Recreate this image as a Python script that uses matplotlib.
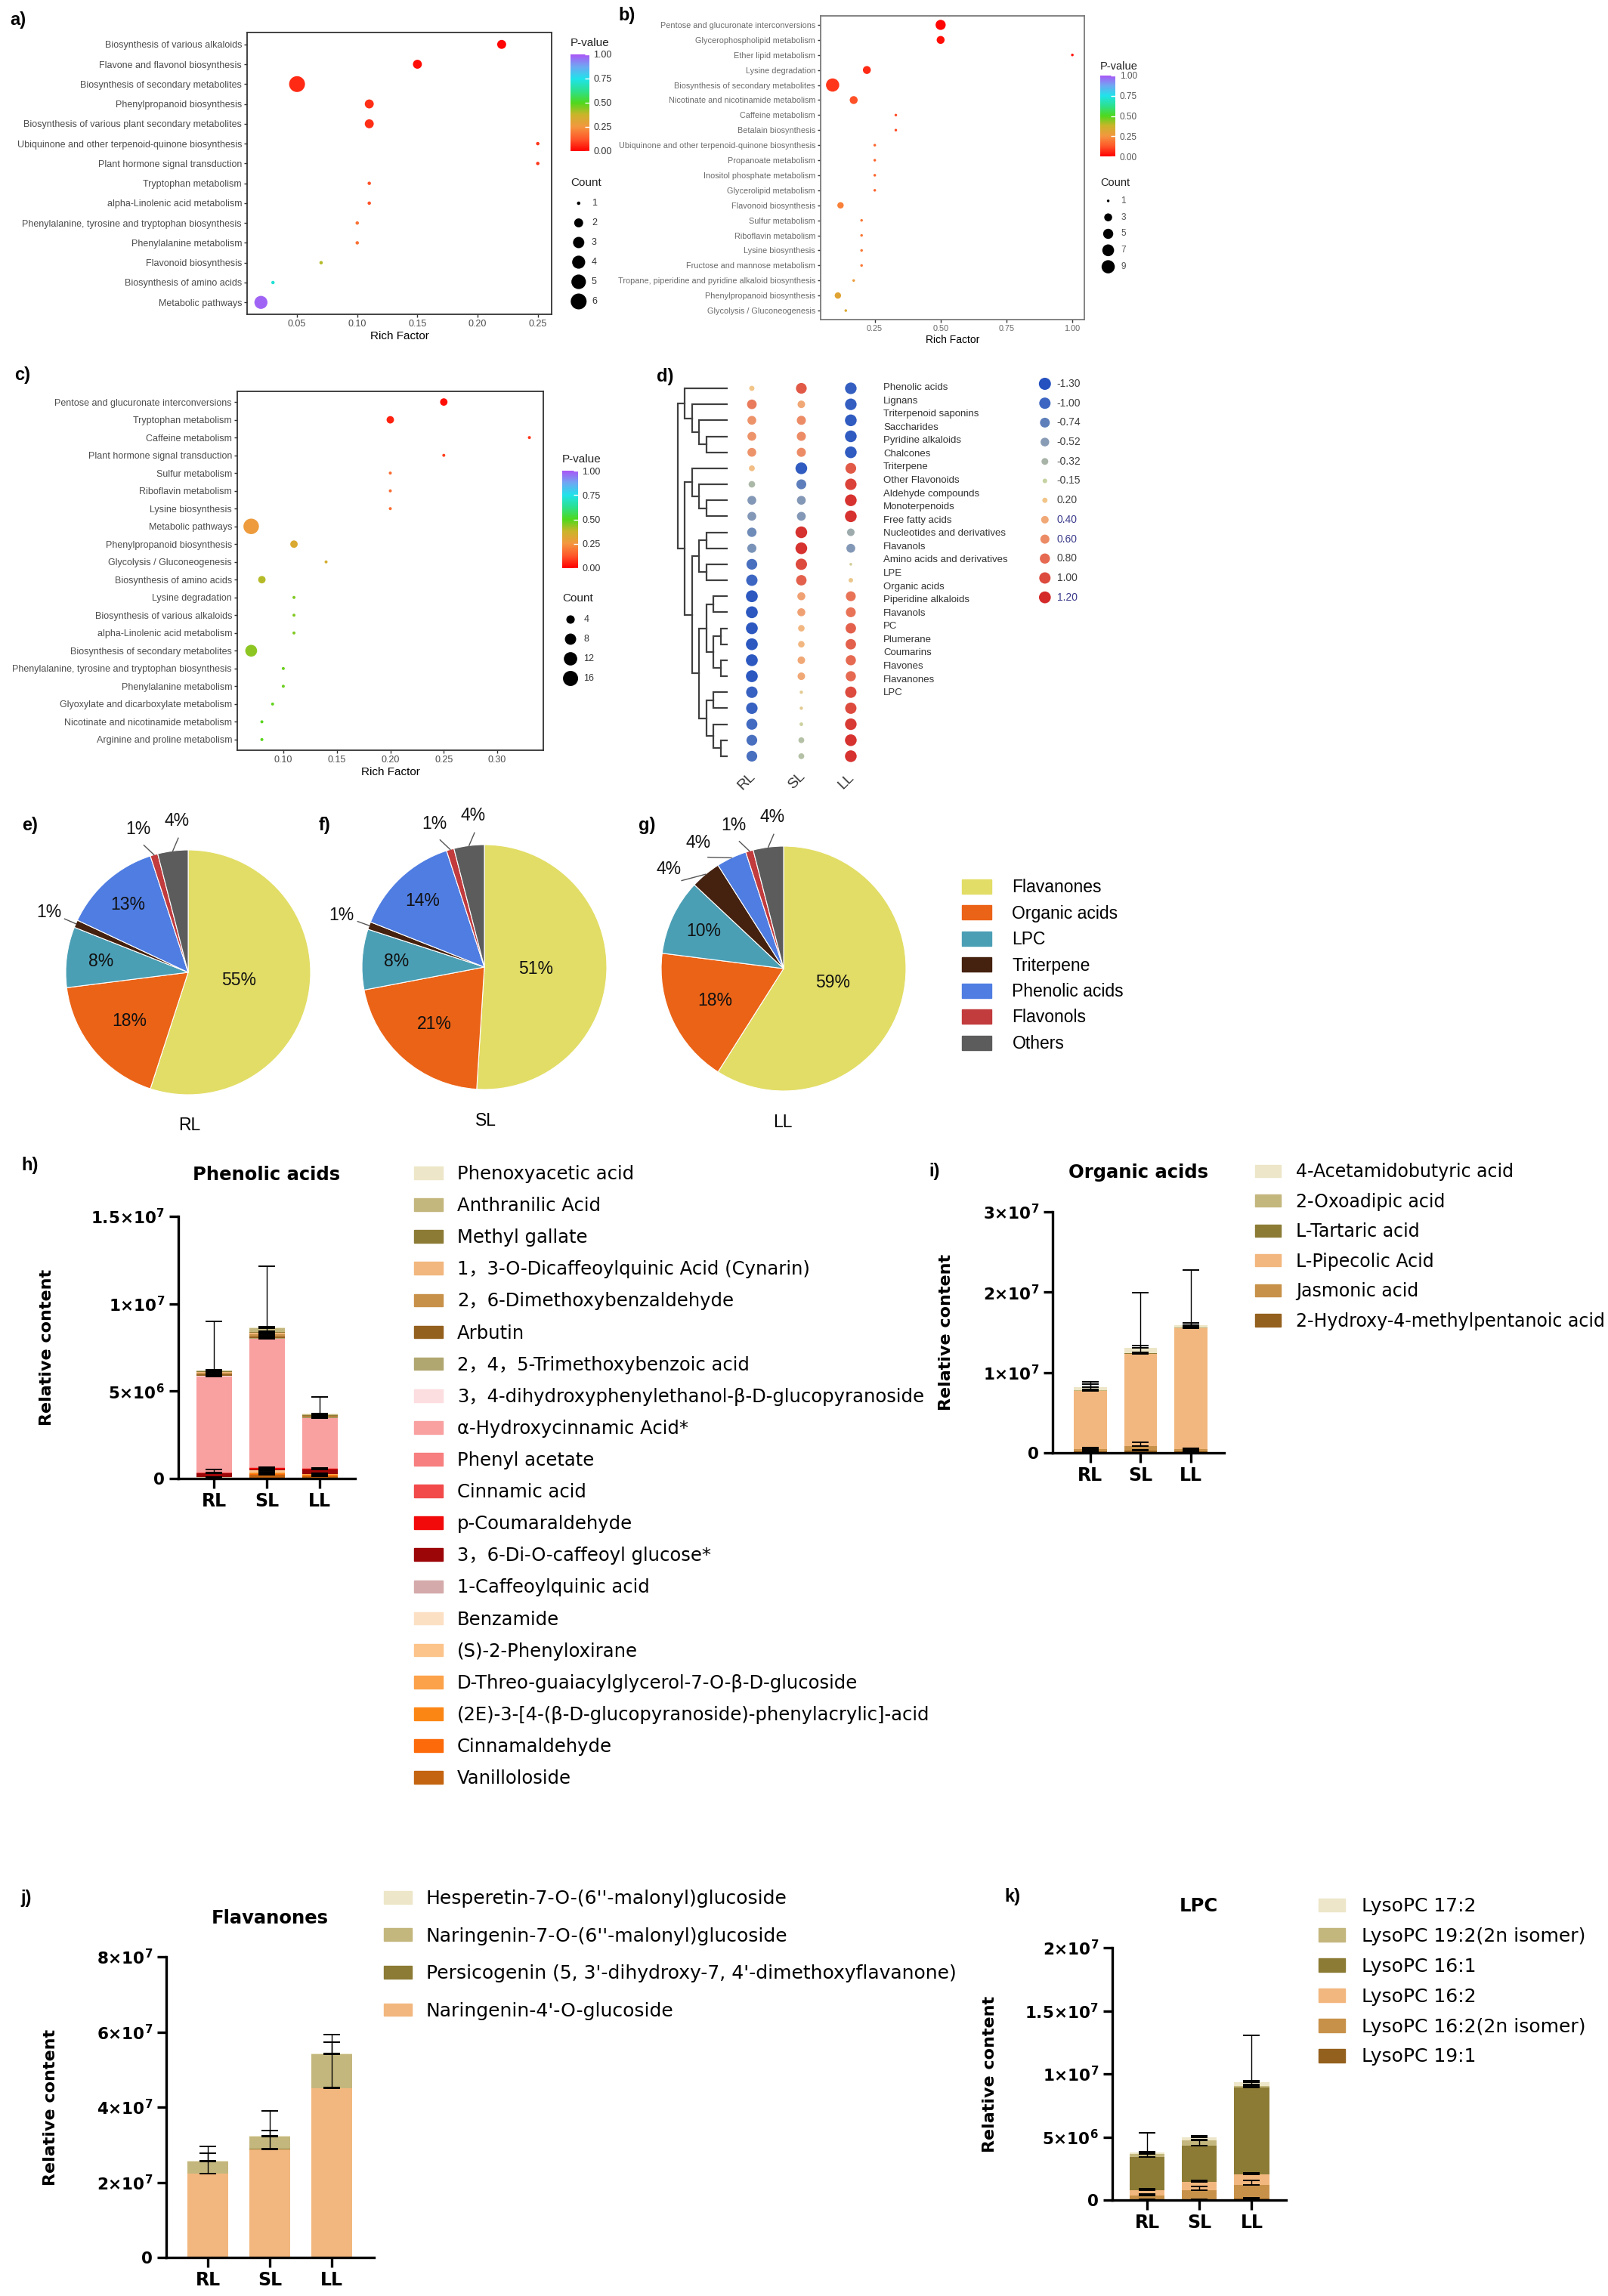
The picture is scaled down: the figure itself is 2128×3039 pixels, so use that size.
import numpy as np
import matplotlib.pyplot as plt
from matplotlib.colors import LinearSegmentedColormap, Normalize
from matplotlib.cm import ScalarMappable
from matplotlib.patches import Patch
from matplotlib.font_manager import FontProperties

W, H = 2128, 3039
SANS = ['Liberation Sans', 'DejaVu Sans']
BARF = ['DejaVu Sans', 'Noto Sans CJK SC']

# ---------------- data: KEGG enrichment (a, b, c) ----------------
a_terms = ['Biosynthesis of various alkaloids', 'Flavone and flavonol biosynthesis',
           'Biosynthesis of secondary metabolites', 'Phenylpropanoid biosynthesis',
           'Biosynthesis of various plant secondary metabolites',
           'Ubiquinone and other terpenoid-quinone biosynthesis', 'Plant hormone signal transduction',
           'Tryptophan metabolism', 'alpha-Linolenic acid metabolism',
           'Phenylalanine, tyrosine and tryptophan biosynthesis', 'Phenylalanine metabolism',
           'Flavonoid biosynthesis', 'Biosynthesis of amino acids', 'Metabolic pathways']
a_rich = [0.22, 0.15, 0.05, 0.11, 0.11, 0.25, 0.25, 0.11, 0.11, 0.10, 0.10, 0.07, 0.03, 0.02]
a_pval = [0.01, 0.02, 0.06, 0.07, 0.07, 0.08, 0.08, 0.12, 0.12, 0.18, 0.18, 0.40, 0.72, 0.98]
a_count = [2, 2, 6, 2, 2, 1, 1, 1, 1, 1, 1, 1, 1, 4]
a_xticks = [0.05, 0.10, 0.15, 0.20, 0.25]
a_leg_counts = [1, 2, 3, 4, 5, 6]

b_terms = ['Pentose and glucuronate interconversions', 'Glycerophospholipid metabolism',
           'Ether lipid metabolism', 'Lysine degradation', 'Biosynthesis of secondary metabolites',
           'Nicotinate and nicotinamide metabolism', 'Caffeine metabolism', 'Betalain biosynthesis',
           'Ubiquinone and other terpenoid-quinone biosynthesis', 'Propanoate metabolism',
           'Inositol phosphate metabolism', 'Glycerolipid metabolism', 'Flavonoid biosynthesis',
           'Sulfur metabolism', 'Riboflavin metabolism', 'Lysine biosynthesis',
           'Fructose and mannose metabolism',
           'Tropane, piperidine and pyridine alkaloid biosynthesis',
           'Phenylpropanoid biosynthesis', 'Glycolysis / Gluconeogenesis']
b_rich = [0.50, 0.50, 1.00, 0.22, 0.09, 0.17, 0.33, 0.33, 0.25, 0.25, 0.25, 0.25, 0.12,
          0.20, 0.20, 0.20, 0.20, 0.17, 0.11, 0.14]
b_pval = [0.01, 0.02, 0.03, 0.06, 0.08, 0.12, 0.11, 0.11, 0.16, 0.16, 0.16, 0.16, 0.21,
          0.19, 0.19, 0.19, 0.19, 0.28, 0.31, 0.33]
b_count = [5, 3, 1, 3, 9, 3, 1, 1, 1, 1, 1, 1, 2, 1, 1, 1, 1, 1, 2, 1]
b_xticks = [0.25, 0.50, 0.75, 1.00]
b_leg_counts = [1, 3, 5, 7, 9]

c_terms = ['Pentose and glucuronate interconversions', 'Tryptophan metabolism', 'Caffeine metabolism',
           'Plant hormone signal transduction', 'Sulfur metabolism', 'Riboflavin metabolism',
           'Lysine biosynthesis', 'Metabolic pathways', 'Phenylpropanoid biosynthesis',
           'Glycolysis / Gluconeogenesis', 'Biosynthesis of amino acids', 'Lysine degradation',
           'Biosynthesis of various alkaloids', 'alpha-Linolenic acid metabolism',
           'Biosynthesis of secondary metabolites',
           'Phenylalanine, tyrosine and tryptophan biosynthesis', 'Phenylalanine metabolism',
           'Glyoxylate and dicarboxylate metabolism', 'Nicotinate and nicotinamide metabolism',
           'Arginine and proline metabolism']
c_rich = [0.25, 0.20, 0.33, 0.25, 0.20, 0.20, 0.20, 0.07, 0.11, 0.14, 0.08, 0.11, 0.11, 0.11,
          0.07, 0.10, 0.10, 0.09, 0.08, 0.08]
c_pval = [0.02, 0.05, 0.08, 0.09, 0.17, 0.17, 0.17, 0.27, 0.33, 0.35, 0.40, 0.45, 0.45, 0.45,
          0.44, 0.47, 0.47, 0.48, 0.49, 0.49]
c_count = [3, 3, 1, 1, 1, 1, 1, 17, 3, 1, 3, 1, 1, 1, 9, 1, 1, 1, 1, 1]
c_xticks = [0.10, 0.15, 0.20, 0.25, 0.30]
c_leg_counts = [4, 8, 12, 16]

p_ticks = [0.0, 0.25, 0.50, 0.75, 1.0]
p_ticklabels = ['0.00', '0.25', '0.50', '0.75', '1.00']

# ---------------- data: clustered dot heatmap (d) ----------------
d_groups = ['RL', 'SL', 'LL']
d_labels = ['Phenolic acids', 'Lignans', 'Triterpenoid saponins', 'Saccharides', 'Pyridine alkaloids',
            'Chalcones', 'Triterpene', 'Other Flavonoids', 'Aldehyde compounds', 'Monoterpenoids',
            'Free fatty acids', 'Nucleotides and derivatives', 'Flavanols',
            'Amino acids and derivatives', 'LPE', 'Organic acids', 'Piperidine alkaloids',
            'Flavanols', 'PC', 'Plumerane', 'Coumarins', 'Flavones', 'Flavanones', 'LPC']
d_values = [[0.20, 0.90, -1.10], [0.70, 0.40, -1.10], [0.55, 0.60, -1.15], [0.55, 0.60, -1.15],
            [0.55, 0.60, -1.15], [0.25, -1.15, 0.90], [-0.30, -0.75, 1.05], [-0.55, -0.55, 1.15],
            [-0.55, -0.55, 1.15], [-0.65, 1.15, -0.40], [-0.60, 1.15, -0.55], [-0.90, 1.00, -0.05],
            [-1.00, 0.85, 0.15], [-1.20, 0.45, 0.75], [-1.20, 0.45, 0.75], [-1.20, 0.30, 0.85],
            [-1.20, 0.30, 0.85], [-1.20, 0.40, 0.80], [-1.20, 0.40, 0.80], [-1.05, 0.08, 1.00],
            [-1.05, 0.08, 1.00], [-0.95, -0.10, 1.10], [-0.90, -0.25, 1.15], [-0.90, -0.25, 1.15]]
# (left child, right child, merge height); leaves are 0..23, new nodes numbered from 24
d_merges = [(3, 4, 3), (2, 24, 4), (1, 25, 5), (0, 26, 6), (7, 8, 3), (6, 28, 4), (5, 29, 5),
            (9, 10, 3), (11, 12, 3), (31, 32, 4), (13, 14, 2), (15, 16, 1), (17, 18, 1),
            (35, 36, 2), (34, 37, 3), (19, 20, 2), (22, 23, 1), (21, 40, 2), (39, 41, 3),
            (38, 42, 4), (33, 43, 5), (30, 44, 6), (27, 45, 7)]
d_leg_vals = [-1.30, -1.00, -0.74, -0.52, -0.32, -0.15, 0.20, 0.40, 0.60, 0.80, 1.00, 1.20]
d_leg_labels = ['-1.30', '-1.00', '-0.74', '-0.52', '-0.32', '-0.15', '0.20', '0.40', '0.60',
                '0.80', '1.00', '1.20']
d_leg_cols = ['#2451BF', '#3D66C2', '#5E7FBA', '#8A9DB5', '#A9B4A8', '#C6D3A2', '#F2C589',
              '#F1A978', '#EC8C66', '#E66A52', '#DD4B3E', '#D42A2A']

# ---------------- data: pies (e, f, g) ----------------
pie_classes = ['Flavanones', 'Organic acids', 'LPC', 'Triterpene', 'Phenolic acids', 'Flavonols', 'Others']
pie_colors = ['#E2DD66', '#EB6317', '#4B9FB5', '#45210F', '#4F7DE2', '#C23B3D', '#5C5C5C']
pie_RL = [55, 18, 8, 1, 13, 1, 4]
pie_SL = [51, 21, 8, 1, 14, 1, 4]
pie_LL = [59, 18, 10, 4, 4, 1, 4]

# ---------------- data: stacked bars (h, i, j, k), values in 1e6 ----------------
groups = ['RL', 'SL', 'LL']
h_names = ['Phenoxyacetic acid', 'Anthranilic Acid', 'Methyl gallate',
           '1，3-O-Dicaffeoylquinic Acid (Cynarin)', '2，6-Dimethoxybenzaldehyde', 'Arbutin',
           '2，4，5-Trimethoxybenzoic acid', '3，4-dihydroxyphenylethanol-β-D-glucopyranoside',
           'α-Hydroxycinnamic Acid*', 'Phenyl acetate', 'Cinnamic acid', 'p-Coumaraldehyde',
           '3，6-Di-O-caffeoyl glucose*', '1-Caffeoylquinic acid', 'Benzamide', '(S)-2-Phenyloxirane',
           'D-Threo-guaiacylglycerol-7-O-β-D-glucoside',
           '(2E)-3-[4-(β-D-glucopyranoside)-phenylacrylic]-acid', 'Cinnamaldehyde', 'Vanilloloside']
h_colors = ['#EDE6C8', '#C4B77E', '#8C7B35', '#F2B77E', '#C8914A', '#94601E', '#B0A670', '#FCDDE0',
            '#F9A0A0', '#F77F7F', '#F24A4A', '#F20A0A', '#9C0608', '#D4AAAA', '#FCE0C4', '#FCC38A',
            '#FCA24A', '#FC8614', '#FC6A0A', '#C46410']
h_mean = [[0.02, 0.05, 0.02], [0.05, 0.20, 0.05], [0.03, 0.05, 0.03], [0.05, 0.08, 0.03],
          [0.10, 0.15, 0.04], [0.05, 0.08, 0.04], [0.03, 0.03, 0.02], [0.02, 0.03, 0.02],
          [5.50, 7.35, 2.85], [0.02, 0.02, 0.02], [0.01, 0.01, 0.01], [0.02, 0.06, 0.04],
          [0.22, 0.05, 0.25], [0.01, 0.01, 0.01], [0.01, 0.01, 0.01], [0.01, 0.12, 0.02],
          [0.01, 0.04, 0.03], [0.01, 0.03, 0.03], [0.01, 0.08, 0.06], [0.02, 0.20, 0.12]]
h_sd = [[0.01, 0.02, 0.01], [0.03, 0.08, 0.03], [0.01, 0.02, 0.01], [0.02, 0.03, 0.01],
        [0.04, 0.05, 0.02], [0.02, 0.03, 0.02], [0.01, 0.01, 0.01], [0.01, 0.01, 0.01],
        [3.15, 4.15, 1.20], [0.01, 0.01, 0.01], [0.01, 0.01, 0.01], [0.01, 0.02, 0.02],
        [0.20, 0.03, 0.08], [0.01, 0.01, 0.01], [0.01, 0.01, 0.01], [0.01, 0.05, 0.01],
        [0.01, 0.02, 0.01], [0.01, 0.01, 0.01], [0.01, 0.03, 0.02], [0.01, 0.10, 0.05]]
h_ticks = [0, 5e6, 1e7, 1.5e7]
h_ticklabels = ['0', r'$\mathbf{5{\times}10^{6}}$', r'$\mathbf{1{\times}10^{7}}$',
                r'$\mathbf{1.5{\times}10^{7}}$']

i_names = ['4-Acetamidobutyric acid', '2-Oxoadipic acid', 'L-Tartaric acid', 'L-Pipecolic Acid',
           'Jasmonic acid', '2-Hydroxy-4-methylpentanoic acid']
i_colors = ['#EDE6C8', '#C4B77E', '#8C7B35', '#F2B77E', '#C8914A', '#94601E']
i_mean = [[0.35, 0.60, 0.25], [0.08, 0.05, 0.10], [0.03, 0.03, 0.03], [7.25, 11.50, 15.05],
          [0.30, 0.55, 0.30], [0.15, 0.30, 0.15]]
i_sd = [[0.40, 0.30, 0.25], [0.05, 0.05, 0.05], [0.02, 0.02, 0.02], [1.10, 7.60, 7.30],
        [0.20, 0.45, 0.15], [0.10, 0.10, 0.10]]
i_ticks = [0, 1e7, 2e7, 3e7]
i_ticklabels = ['0', r'$\mathbf{1{\times}10^{7}}$', r'$\mathbf{2{\times}10^{7}}$',
                r'$\mathbf{3{\times}10^{7}}$']

j_names = ["Hesperetin-7-O-(6''-malonyl)glucoside", "Naringenin-7-O-(6''-malonyl)glucoside",
           "Persicogenin (5, 3'-dihydroxy-7, 4'-dimethoxyflavanone)", "Naringenin-4'-O-glucoside"]
j_colors = ['#EDE6C8', '#C4B77E', '#8C7B35', '#F2B77E']
j_mean = [[0.15, 0.15, 0.20], [3.20, 3.30, 8.90], [0.05, 0.05, 0.10], [22.30, 28.80, 45.00]]
j_sd = [[0.05, 0.05, 0.10], [4.00, 6.90, 5.30], [0.02, 0.02, 0.05], [5.50, 5.00, 12.20]]
j_ticks = [0, 2e7, 4e7, 6e7, 8e7]
j_ticklabels = ['0', r'$\mathbf{2{\times}10^{7}}$', r'$\mathbf{4{\times}10^{7}}$',
                r'$\mathbf{6{\times}10^{7}}$', r'$\mathbf{8{\times}10^{7}}$']

k_names = ['LysoPC 17:2', 'LysoPC 19:2(2n isomer)', 'LysoPC 16:1', 'LysoPC 16:2',
           'LysoPC 16:2(2n isomer)', 'LysoPC 19:1']
k_colors = ['#EDE6C8', '#C4B77E', '#8C7B35', '#F2B77E', '#C8914A', '#94601E']
k_mean = [[0.11, 0.22, 0.27], [0.22, 0.45, 0.11], [2.66, 2.86, 6.92], [0.42, 0.67, 0.86],
          [0.30, 0.72, 1.07], [0.05, 0.05, 0.10]]
k_sd = [[0.05, 0.10, 0.13], [0.05, 0.05, 0.10], [1.87, 0.45, 4.10], [0.15, 0.10, 0.15],
        [0.12, 0.30, 0.40], [0.02, 0.02, 0.05]]
k_ticks = [0, 5e6, 1e7, 1.5e7, 2e7]
k_ticklabels = ['0', r'$\mathbf{5{\times}10^{6}}$', r'$\mathbf{1{\times}10^{7}}$',
                r'$\mathbf{1.5{\times}10^{7}}$', r'$\mathbf{2{\times}10^{7}}$']

# ---------------- figure ----------------
fig = plt.figure(figsize=(W / 100, H / 100), dpi=100)
fig.patch.set_facecolor('white')


def px_ax(x0, y0, x1, y1):
    return fig.add_axes([x0 / W, 1 - y1 / H, (x1 - x0) / W, (y1 - y0) / H])


def px_text(x, y, s, **kw):
    return fig.text(x / W, 1 - y / H, s, **kw)


pcmap = LinearSegmentedColormap.from_list('pval', [
    (0.0, '#FF0000'), (0.12, '#FF5328'), (0.25, '#F4963F'), (0.38, '#C9B52A'), (0.5, '#4FD81C'),
    (0.62, '#2DE08A'), (0.75, '#1FE3EA'), (0.88, '#70A6F2'), (1.0, '#A957F6')])


def dot_px(counts, cmin, cmax, dmin, dmax):
    c = np.asarray(counts, float)
    return dmin + (dmax - dmin) * np.sqrt((c - cmin) / (cmax - cmin))


def enrichment(box, terms, rich, pval, count, sz, xticks, xlim, fs, tcol, frame, xlab_fs):
    ax = px_ax(*box)
    n = len(terms)
    y = np.arange(n, 0, -1)
    d = dot_px(count, *sz)
    ax.scatter(rich, y, s=(d * 0.72) ** 2, c=pval, cmap=pcmap, vmin=0, vmax=1,
               edgecolors='none', zorder=3)
    ax.set_xlim(*xlim)
    ax.set_ylim(0.4, n + 0.6)
    ax.set_yticks(y)
    ax.set_yticklabels(terms, fontsize=fs, color=tcol, family=SANS)
    ax.set_xticks(xticks)
    ax.set_xticklabels(['%.2f' % t for t in xticks], fontsize=fs, color=tcol, family=SANS)
    ax.tick_params(length=3, width=1, color='#333333', pad=2)
    for s in ax.spines.values():
        s.set_color(frame)
        s.set_linewidth(1.3)
    ax.set_xlabel('Rich Factor', fontsize=xlab_fs, family=SANS, labelpad=2)
    return ax


def p_legend(x, y_ptitle, cb_box, y_ctitle, cnt_box, counts, sz, fs, tcol):
    px_text(x, y_ptitle, 'P-value', fontsize=fs + 2, family=SANS, va='center', color='#222222')
    cax = px_ax(*cb_box)
    cb = fig.colorbar(ScalarMappable(norm=Normalize(0, 1), cmap=pcmap), cax=cax)
    cb.set_ticks(p_ticks)
    cb.set_ticklabels(p_ticklabels)
    cb.outline.set_visible(False)
    cax.tick_params(labelsize=fs, labelcolor=tcol, length=4, width=1, color='white',
                    direction='in', pad=4)
    for lab in cax.get_yticklabels():
        lab.set_family(SANS)
    px_text(x, y_ctitle, 'Count', fontsize=fs + 2, family=SANS, va='center', color='#222222')
    lax = px_ax(*cnt_box)
    n = len(counts)
    yy = np.arange(n)
    d = dot_px(counts, *sz)
    lax.scatter(np.full(n, 0.24), yy, s=(d * 0.72) ** 2, color='black', edgecolors='none')
    for yi, cval in zip(yy, counts):
        lax.text(0.62, yi, str(cval), fontsize=fs, family=SANS, va='center', color=tcol)
    lax.set_xlim(0, 1)
    lax.set_ylim(n - 0.5, -0.5)
    lax.axis('off')


# a
sz_a = (1, 6, 4.5, 21)
enrichment((327, 43, 730, 416), a_terms, a_rich, a_pval, a_count, sz_a, a_xticks,
           (0.0085, 0.2615), 9, '#4D4D4D', '#333333', 11)
p_legend(755, 57, (755, 72, 780, 200), 242, (755, 256, 800, 412), a_leg_counts, sz_a, 9, '#333333')

# b
sz_b = (1, 9, 3.5, 17.5)
enrichment((1086, 21, 1435, 423), b_terms, b_rich, b_pval, b_count, sz_b, b_xticks,
           (0.0445, 1.0455), 7.8, '#6A6A6A', '#7A7A7A', 10)
p_legend(1456, 88, (1456, 100, 1476, 207), 242, (1456, 255, 1500, 364), b_leg_counts, sz_b, 8.5,
         '#555555')

# c
sz_c = (1, 17, 4, 20.5)
enrichment((314, 518, 719, 993), c_terms, c_rich, c_pval, c_count, sz_c, c_xticks,
           (0.057, 0.343), 9, '#4D4D4D', '#333333', 11)
p_legend(744, 608, (744, 623, 765, 752), 792, (744, 807, 790, 911), c_leg_counts, sz_c, 9,
         '#333333')

# d : dendrogram + dot heatmap
dcmap = LinearSegmentedColormap.from_list(
    'dz', [((v - d_leg_vals[0]) / (d_leg_vals[-1] - d_leg_vals[0]), col)
           for v, col in zip(d_leg_vals, d_leg_cols)])
dnorm = Normalize(d_leg_vals[0], d_leg_vals[-1])


def d_size(v):
    return np.interp(np.abs(v), [0, 0.15, 0.32, 0.52, 0.74, 1.0, 1.3],
                     [2.5, 6, 9, 11.5, 13, 15, 16])


n_rows = len(d_labels)
row_top, row_px = 514, 21.17
dax = px_ax(893, row_top - row_px / 2, 963, row_top + (n_rows - 0.5) * row_px)
node_y = {i: float(i) for i in range(n_rows)}
node_h = {i: 0.0 for i in range(n_rows)}
for k, (l, r, hgt) in enumerate(d_merges):
    dax.plot([-node_h[l], -hgt, -hgt, -node_h[r]], [node_y[l], node_y[l], node_y[r], node_y[r]],
             color='#404040', lw=1.6, solid_joinstyle='miter')
    node_y[n_rows + k] = (node_y[l] + node_y[r]) / 2
    node_h[n_rows + k] = hgt
dax.set_xlim(-7.42, 0)
dax.set_ylim(n_rows - 0.5, -0.5)
dax.axis('off')

hax = px_ax(965, row_top - row_px / 2, 1160, row_top + (n_rows - 0.5) * row_px)
vals = np.array(d_values)
xx, yy = np.meshgrid(np.arange(3), np.arange(n_rows))
hax.scatter(xx.ravel(), yy.ravel(), s=(d_size(vals.ravel()) * 0.72) ** 2, c=vals.ravel(),
            cmap=dcmap, norm=dnorm, edgecolors='none')
hax.set_xlim(-0.458, 2.52)
hax.set_ylim(n_rows - 0.5, -0.5)
hax.axis('off')
for gi, g in enumerate(d_groups):
    hax.text(gi - 0.1, n_rows + 0.55, g, rotation=45, ha='center', va='center', fontsize=14,
             family=SANS, color='#333333')

lab_px = 17.57
tax = px_ax(1169, 513 - lab_px / 2, 1360, 513 + (n_rows - 0.5) * lab_px)
for li, lab in enumerate(d_labels):
    tax.text(0, li, lab, fontsize=9.5, family=SANS, va='center', ha='left', color='#333333')
tax.set_xlim(0, 1)
tax.set_ylim(n_rows - 0.5, -0.5)
tax.axis('off')

leg_px = 25.7
nl = len(d_leg_vals)
lgx = px_ax(1370, 508 - leg_px / 2, 1450, 508 + (nl - 0.5) * leg_px)
lv = np.array(d_leg_vals)
lgx.scatter(np.full(nl, 0.16), np.arange(nl), s=(d_size(lv) * 0.72) ** 2, c=lv, cmap=dcmap,
            norm=dnorm, edgecolors='none')
for li, (v, lab) in enumerate(zip(d_leg_vals, d_leg_labels)):
    col = '#3B3B8C' if lab in ('0.40', '0.60', '1.20') else '#404040'
    lgx.text(0.36, li, lab, fontsize=10, family=SANS, va='center', color=col)
lgx.set_xlim(0, 1)
lgx.set_ylim(nl - 0.5, -0.5)
lgx.axis('off')

# e, f, g : pies
R = 162
for vals_p, (cx, cy), name, (lx, ly) in [(pie_RL, (249, 1287), 'RL', (251, 1490)),
                                          (pie_SL, (641, 1280), 'SL', (643, 1483)),
                                          (pie_LL, (1037, 1282), 'LL', (1036, 1485))]:
    m = 1.45
    pax = px_ax(cx - m * R, cy - m * R, cx + m * R, cy + m * R)
    wedges, _ = pax.pie(vals_p, colors=pie_colors, startangle=90, counterclock=False, radius=1,
                        wedgeprops=dict(edgecolor='white', linewidth=0.8))
    pax.set_xlim(-m, m)
    pax.set_ylim(-m, m)
    outside = []
    for w, v, cls in zip(wedges, vals_p, pie_classes):
        mid = (w.theta1 + w.theta2) / 2
        if v <= 4:
            outside.append((mid, v))
            continue
        rr = {'Flavanones': 0.42, 'Organic acids': 0.62, 'LPC': 0.72}.get(cls, 0.74)
        a = np.deg2rad(mid)
        pax.text(rr * np.cos(a), rr * np.sin(a), '%d%%' % v, ha='center', va='center',
                 fontsize=16.5, family=SANS, color='#111111')
    outside.sort()
    prev = None
    for mid, v in outside:
        lab_ang = mid - 3 if prev is None else max(mid, prev + 15)
        prev = lab_ang
        a0, a1 = np.deg2rad(mid), np.deg2rad(lab_ang)
        pax.plot([np.cos(a0), 1.1 * np.cos(a1)], [np.sin(a0), 1.1 * np.sin(a1)],
                 color='#555555', lw=1)
        pax.text(1.24 * np.cos(a1), 1.24 * np.sin(a1), '%d%%' % v, ha='center', va='center',
                 fontsize=16.5, family=SANS, color='#111111')
    px_text(lx, ly, name, fontsize=16.5, family=SANS, ha='center', va='center')

fs_pie = 16.5
fig.legend([Patch(color=c) for c in pie_colors], pie_classes, loc='upper left',
           bbox_to_anchor=(1273 / W, 1 - (1176 - 12.8) / H), bbox_transform=fig.transFigure,
           frameon=False, prop=FontProperties(family=SANS, size=fs_pie), handlelength=1.7,
           handleheight=0.9, handletextpad=1.2, labelspacing=0.5, borderpad=0, borderaxespad=0)


# h, i, j, k : stacked bars
def stacked(box, names, mean, sd, colors, ticks, ticklabels, ymax, xlim, width, title, title_xy,
            ylab_x, leg_xy, leg_fs, leg_hl, leg_hh, leg_pad, leg_ls):
    ax = px_ax(*box)
    x = np.arange(len(groups))
    v = np.array(mean, float) * 1e6
    e = np.array(sd, float) * 1e6
    base = np.zeros(len(groups))
    for k in range(len(names) - 1, -1, -1):
        ax.bar(x, v[k], width, bottom=base, color=colors[k], linewidth=0, zorder=2)
        top = base + v[k]
        ax.errorbar(x, top, yerr=[np.zeros(len(groups)), e[k]], fmt='none', ecolor='black',
                    elinewidth=1.0, capsize=8, capthick=1.4, zorder=3)
        base = top
    ax.set_xlim(*xlim)
    ax.set_ylim(0, ymax)
    ax.spines[['top', 'right']].set_visible(False)
    for s in ('left', 'bottom'):
        ax.spines[s].set_linewidth(2.4)
    ax.set_yticks(ticks)
    ax.set_yticklabels(ticklabels, fontsize=15.5, fontweight='bold')
    ax.set_xticks(x)
    ax.set_xticklabels(groups, fontsize=17, fontweight='bold')
    ax.tick_params(length=9, width=2.4, direction='out', pad=4)
    ax.set_ylabel('Relative content', fontsize=16, fontweight='bold')
    x0, x1 = box[0], box[2]
    ax.yaxis.set_label_coords((ylab_x - x0) / (x1 - x0), 0.5)
    px_text(title_xy[0], title_xy[1], title, fontsize=17.5, fontweight='bold', ha='center',
            va='center')
    ax.legend([Patch(color=c) for c in colors], names, loc='upper left',
              bbox_to_anchor=(leg_xy[0] / W, 1 - leg_xy[1] / H), bbox_transform=fig.transFigure,
              frameon=False, prop=FontProperties(family=BARF, size=leg_fs), handlelength=leg_hl,
              handleheight=leg_hh, handletextpad=leg_pad, labelspacing=leg_ls, borderpad=0,
              borderaxespad=0)
    return ax


stacked((236, 1610, 470, 1957), h_names, h_mean, h_sd, h_colors, h_ticks, h_ticklabels, 1.5e7,
        (-0.68, 2.67), 0.67, 'Phenolic acids', (353, 1555), 72, (548, 1542), 17.5, 1.57, 0.68,
        0.78, 0.745)
stacked((1393, 1604, 1620, 1923), i_names, i_mean, i_sd, i_colors, i_ticks, i_ticklabels, 3e7,
        (-0.75, 2.66), 0.65, 'Organic acids', (1506, 1552), 1262, (1661, 1539), 17, 1.44, 0.68,
        0.85, 0.658)
stacked((220, 2590, 495, 2988), j_names, j_mean, j_sd, j_colors, j_ticks, j_ticklabels, 8e7,
        (-0.67, 2.68), 0.66, 'Flavanones', (357, 2539), 77, (508, 2501), 18, 1.48, 0.66, 0.76,
        1.024)
stacked((1472, 2578, 1702, 2912), k_names, k_mean, k_sd, k_colors, k_ticks, k_ticklabels, 2e7,
        (-0.67, 2.66), 0.67, 'LPC', (1586, 2523), 1320, (1745, 2511), 18, 1.4, 0.7, 0.88, 0.636)

# panel letters
for s, (x, y) in {'a)': (24, 27), 'b)': (830, 20), 'c)': (30, 497), 'd)': (880, 499),
                  'e)': (40, 1092), 'f)': (430, 1092), 'g)': (856, 1092), 'h)': (40, 1542),
                  'i)': (1237, 1550), 'j)': (35, 2512), 'k)': (1340, 2510)}.items():
    px_text(x, y, s, fontsize=17, fontweight='bold', family=SANS, ha='center', va='center')

fig.savefig('out.png', dpi=100, facecolor='white')
